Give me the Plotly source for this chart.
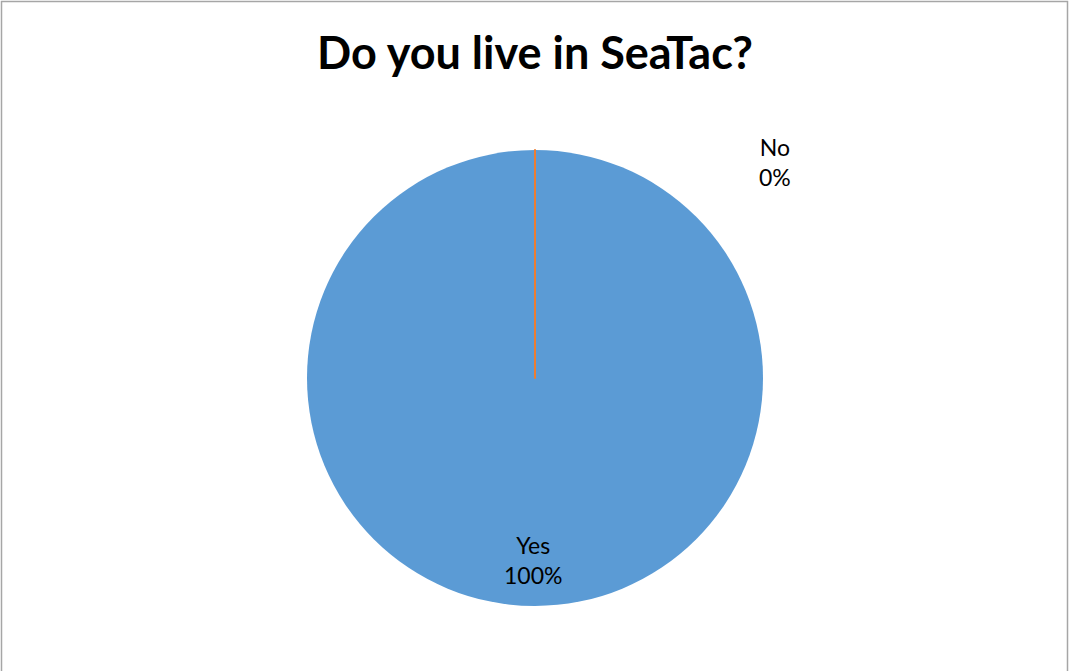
import plotly.graph_objects as go

# Survey answers
labels = ["Yes", "No"]
values = [100, 0]
colors = ["#5B9BD5", "#ED7D31"]

W, H = 1070, 671
total = sum(values)
pcts = [round(v / total * 100) for v in values]

fig = go.Figure()
fig.add_trace(go.Pie(
    labels=labels,
    values=values,
    sort=False,
    direction="clockwise",
    rotation=0,
    marker=dict(colors=colors,
                line=dict(color=["#5B9BD5", "#ED7D31"], width=[0, 2])),
    textinfo="none",
    hoverinfo="label+percent",
    showlegend=False,
    domain=dict(x=[307 / W, 763 / W], y=[1 - 606 / H, 1 - 150 / H]),
))

# Data labels: category name over its percentage
label_pos = {"Yes": (533 / W, 1 - 560 / H), "No": (775 / W, 1 - 162 / H)}
for lab, p in zip(labels, pcts):
    x, y = label_pos[lab]
    fig.add_annotation(
        x=x, y=y, xref="paper", yref="paper",
        text=f"{lab}<br>{p}%", showarrow=False,
        font=dict(family="Lato, Carlito, sans-serif", size=23, color="#000000"),
        align="center", xanchor="center", yanchor="middle",
    )

# Chart area border
fig.add_shape(type="rect", xref="paper", yref="paper",
              x0=1.5 / W, x1=1067.5 / W, y0=-0.05, y1=1 - 1.5 / H,
              line=dict(color="#A6A6A6", width=1.5), fillcolor="rgba(0,0,0,0)")

fig.update_layout(
    width=W, height=H,
    margin=dict(l=0, r=0, t=0, b=0),
    paper_bgcolor="#FFFFFF",
    plot_bgcolor="#FFFFFF",
    title=dict(text="<b>Do you live in SeaTac?</b>", x=0.5, xanchor="center",
               y=1 - 53 / H, yanchor="middle",
               font=dict(family="Lato, Carlito, sans-serif", size=45, color="#000000")),
)

fig.write_html("out.html")
